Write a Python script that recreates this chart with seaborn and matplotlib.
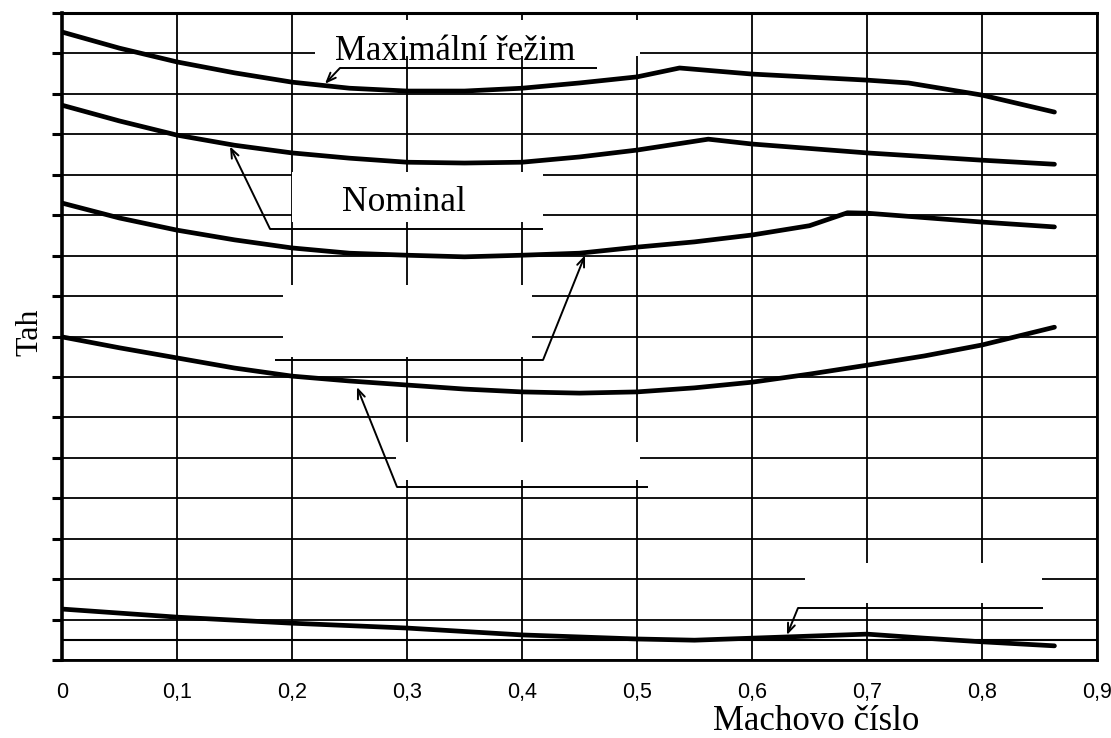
import matplotlib
matplotlib.use("Agg")
import matplotlib.pyplot as plt
from matplotlib.patches import Rectangle
import seaborn as sns
import pandas as pd

# ---------------- data ----------------
mach_max = [0, 0.05, 0.1, 0.15, 0.2, 0.25, 0.3, 0.35, 0.4, 0.45, 0.5, 0.537, 0.6, 0.7, 0.736, 0.8, 0.863]
thrust_max = [15.53, 15.13, 14.79, 14.52, 14.29, 14.14, 14.07, 14.07, 14.14, 14.27, 14.42, 14.64, 14.49, 14.34, 14.27, 13.97, 13.55]

mach_nom = [0, 0.05, 0.1, 0.15, 0.2, 0.25, 0.3, 0.35, 0.4, 0.45, 0.5, 0.562, 0.6, 0.7, 0.8, 0.863]
thrust_nom = [13.72, 13.33, 12.98, 12.73, 12.54, 12.41, 12.31, 12.29, 12.31, 12.44, 12.61, 12.88, 12.76, 12.54, 12.36, 12.26]

mach_3 = [0, 0.05, 0.1, 0.15, 0.2, 0.25, 0.3, 0.35, 0.4, 0.45, 0.5, 0.55, 0.6, 0.65, 0.683, 0.7, 0.8, 0.863]
thrust_3 = [11.30, 10.93, 10.63, 10.39, 10.19, 10.06, 10.01, 9.97, 10.01, 10.06, 10.21, 10.34, 10.51, 10.74, 11.06, 11.05, 10.83, 10.71]

mach_4 = [0, 0.05, 0.1, 0.15, 0.2, 0.25, 0.3, 0.35, 0.4, 0.45, 0.5, 0.55, 0.6, 0.65, 0.7, 0.75, 0.8, 0.863]
thrust_4 = [7.99, 7.72, 7.47, 7.22, 7.02, 6.90, 6.80, 6.70, 6.63, 6.60, 6.63, 6.73, 6.87, 7.07, 7.29, 7.52, 7.79, 8.23]

mach_5 = [0, 0.1, 0.2, 0.3, 0.4, 0.5, 0.55, 0.6, 0.7, 0.75, 0.8, 0.863]
thrust_5 = [1.26, 1.06, 0.91, 0.79, 0.62, 0.52, 0.49, 0.54, 0.64, 0.54, 0.45, 0.35]

series_names = ["max", "nom", "s3", "s4", "s5"]
x_ticks = [0, 0.1, 0.2, 0.3, 0.4, 0.5, 0.6, 0.7, 0.8, 0.9]
x_tick_labels = ["0", "0,1", "0,2", "0,3", "0,4", "0,5", "0,6", "0,7", "0,8", "0,9"]
y_ticks = list(range(0, 17))
label_max = "Maximální řežim"
label_nom = "Nominal"
x_title = "Machovo číslo"
y_title = "Tah"

# ---------------- layout (decorations, not data) ----------------
# erased label areas (x0, x1, y0, y1)
white_boxes = [
    (0.220, 0.5026, 14.94, 15.83),
    (0.200, 0.4183, 10.83, 12.07),
    (0.1922, 0.4087, 7.49, 9.27),
    (0.2904, 0.5026, 4.45, 5.39),
    (0.6461, 0.8522, 1.41, 2.40),
]
# leader lines: (end of horizontal, elbow, arrow tip)
leaders = [
    ((0.4652, 14.64), (0.2417, 14.64), (0.2287, 14.25)),
    ((0.4183, 10.66), (0.1809, 10.66), (0.1461, 12.70)),
    ((0.1852, 7.42), (0.4183, 7.42), (0.4548, 10.01)),
    ((0.5096, 4.28), (0.2913, 4.28), (0.2565, 6.75)),
    ((0.853, 1.286), (0.640, 1.286), (0.6304, 0.62)),
]

# ---------------- build ----------------
frames = []
for name, xs, ys in zip(series_names,
                        [mach_max, mach_nom, mach_3, mach_4, mach_5],
                        [thrust_max, thrust_nom, thrust_3, thrust_4, thrust_5]):
    frames.append(pd.DataFrame({"mach": xs, "thrust": ys, "series": name}))
df = pd.concat(frames, ignore_index=True)

sns.set_theme(style="white")
plt.rcParams["font.family"] = ["Liberation Sans", "DejaVu Sans"]

fig = plt.figure(figsize=(11.11, 7.38), dpi=100)
ax = fig.add_axes([62 / 1111, 78 / 738, 1035 / 1111, 647 / 738])

ax.set_xlim(0, 0.9)
ax.set_ylim(0, 16)
ax.set_xticks(x_ticks)
ax.set_xticklabels(x_tick_labels, fontsize=15.5, color="black")
ax.set_yticks(y_ticks)
ax.set_yticklabels([])
ax.tick_params(axis="x", length=0, pad=16)
ax.tick_params(axis="y", direction="out", length=7, width=2.2, color="black", left=True)

ax.set_axisbelow(True)
ax.grid(True, color="black", linewidth=1.3)
ax.axhline(0.5, color="black", linewidth=1.5, zorder=0.6)

for x0, x1, y0, y1 in white_boxes:
    ax.add_patch(Rectangle((x0, y0), x1 - x0, y1 - y0, facecolor="white",
                           edgecolor="none", zorder=1))

sns.lineplot(data=df, x="mach", y="thrust", hue="series", units="series",
             estimator=None, palette=["black"] * 5, linewidth=3.4,
             legend=False, ax=ax, zorder=3)

for end, elbow, tip in leaders:
    ax.plot([end[0], elbow[0]], [end[1], elbow[1]], color="black", linewidth=1.4, zorder=4,
            solid_capstyle="butt")
    ax.annotate("", xy=tip, xytext=elbow,
                arrowprops=dict(arrowstyle="->,head_length=0.55,head_width=0.22",
                                color="black", lw=1.4, shrinkA=0, shrinkB=0),
                zorder=4)

serif = ["Liberation Serif", "DejaVu Serif"]
ax.text(0.3417, 14.84, label_max, fontsize=25, family=serif, ha="center",
        va="baseline", color="black", zorder=5)
ax.text(0.297, 11.10, label_nom, fontsize=25.5, family=serif, ha="center",
        va="baseline", color="black", zorder=5)

ax.set_xlabel(x_title, fontsize=25, family=serif, color="black", va="baseline")
ax.xaxis.set_label_coords(0.7285, -0.1082)
ax.set_ylabel(y_title, fontsize=23, family=serif, color="black", va="baseline")
ax.yaxis.set_label_coords(-0.0242, 0.507)

for side, lw in [("left", 2.6), ("top", 2.2), ("right", 2.0), ("bottom", 2.0)]:
    ax.spines[side].set_visible(True)
    ax.spines[side].set_color("black")
    ax.spines[side].set_linewidth(lw)
    ax.spines[side].set_zorder(6)

fig.savefig("out.png", dpi=100, facecolor="white")
